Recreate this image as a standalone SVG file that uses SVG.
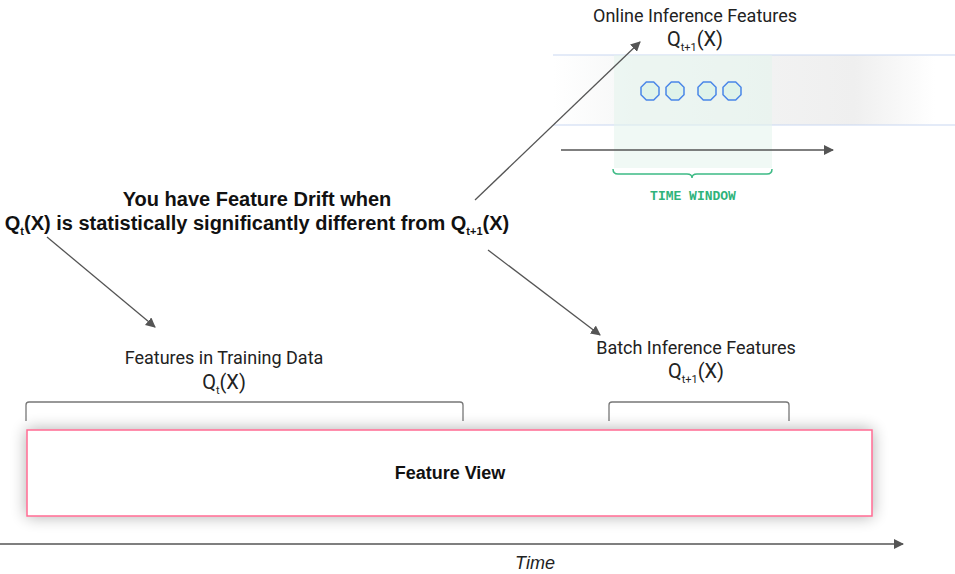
<svg xmlns="http://www.w3.org/2000/svg" width="955" height="574" viewBox="0 0 955 574">
<style>
.lbl{font-family:Roboto,"Liberation Sans",sans-serif;font-size:18px;fill:#222;text-anchor:middle}
.q{font-size:20px}
.sub{font-size:11px}
.bold{font-family:"Liberation Sans",Arial,sans-serif;font-weight:bold;font-size:20px;fill:#111;text-anchor:middle}
.conn{stroke:#555;stroke-width:1.3;fill:none}
.brk{stroke:#777;stroke-width:1.3;fill:none}
.oct{fill:#dff3ea;stroke:#4a86e8;stroke-width:1.5}
</style>
<defs>
<marker id="ah" markerWidth="10" markerHeight="10" refX="9" refY="5" orient="auto" markerUnits="userSpaceOnUse">
<path d="M0,0 L10,5 L0,10 Z" fill="#555"/>
</marker>
<linearGradient id="band" x1="0" x2="1" y1="0" y2="0">
<stop offset="0" stop-color="#ffffff"/>
<stop offset="0.2" stop-color="#f6f7f7"/>
<stop offset="0.75" stop-color="#efefef"/>
<stop offset="0.95" stop-color="#ffffff"/>
</linearGradient>
<filter id="sh" x="-10%" y="-30%" width="120%" height="160%">
<feGaussianBlur in="SourceAlpha" stdDeviation="8"/>
<feComponentTransfer><feFuncA type="linear" slope="0.32"/></feComponentTransfer>
<feMerge><feMergeNode/><feMergeNode in="SourceGraphic"/></feMerge>
</filter>
</defs>
<rect width="955" height="574" fill="#fff"/>

<g id="online-band">
<rect x="553" y="55" width="402" height="70" fill="url(#band)"/>
<line x1="553" y1="55" x2="955" y2="55" stroke="#c9d7f2" stroke-width="1.2"/>
<line x1="553" y1="125" x2="955" y2="125" stroke="#c9d7f2" stroke-width="1.2"/>
<rect x="614" y="55" width="158" height="113" fill="#e4f4ec" opacity="0.55"/>
<polygon class="oct" points="646.3,82 653.7,82 659,87.3 659,94.7 653.7,100 646.3,100 641,94.7 641,87.3"/>
<polygon class="oct" points="671.3,82 678.7,82 684,87.3 684,94.7 678.7,100 671.3,100 666,94.7 666,87.3"/>
<polygon class="oct" points="703.3,82 710.7,82 716,87.3 716,94.7 710.7,100 703.3,100 698,94.7 698,87.3"/>
<polygon class="oct" points="728.3,82 735.7,82 741,87.3 741,94.7 735.7,100 728.3,100 723,94.7 723,87.3"/>
<line x1="561" y1="150" x2="833" y2="150" class="conn" marker-end="url(#ah)"/>
<path d="M613,169 Q613,174 618,174 L687,174 Q692,174 692,178 Q692,174 697,174 L767,174 Q772,174 772,169" stroke="#3dba85" stroke-width="1.5" fill="none"/>
<text x="693" y="200" font-family="'Liberation Mono','DejaVu Sans Mono',monospace" font-weight="bold" font-size="13" fill="#2fb37a" text-anchor="middle">TIME WINDOW</text>
</g>

<g id="online-label">
<text class="lbl" x="695" y="22">Online Inference Features</text>
<text class="lbl q" x="695" y="46">Q<tspan class="sub" dy="5">t+1</tspan><tspan dy="-5">(X)</tspan></text>
</g>

<g id="drift-text">
<text class="bold" x="257" y="206">You have Feature Drift when</text>
<text class="bold" x="257" y="230">Q<tspan class="sub" dy="5">t</tspan><tspan dy="-5">(X) is statistically significantly different from Q</tspan><tspan class="sub" dy="5">t+1</tspan><tspan dy="-5">(X)</tspan></text>
</g>

<g id="training-label">
<text class="lbl" x="224" y="364">Features in Training Data</text>
<text class="lbl q" x="224" y="389">Q<tspan class="sub" dy="5">t</tspan><tspan dy="-5">(X)</tspan></text>
<path class="brk" d="M26,421 L26,405 Q26,402 29,402 L460,402 Q463,402 463,405 L463,421"/>
</g>

<g id="batch-label">
<text class="lbl" x="696" y="354">Batch Inference Features</text>
<text class="lbl q" x="696" y="378">Q<tspan class="sub" dy="5">t+1</tspan><tspan dy="-5">(X)</tspan></text>
<path class="brk" d="M609,421 L609,405 Q609,402 612,402 L786,402 Q789,402 789,405 L789,421"/>
</g>

<g id="feature-view">
<rect x="27" y="430" width="845" height="86" fill="#fff" stroke="#ff6b93" stroke-width="1.5" filter="url(#sh)"/>
<text x="450" y="479" font-family="'Liberation Sans',Arial,sans-serif" font-weight="bold" font-size="18" fill="#111" text-anchor="middle">Feature View</text>
</g>

<g id="time-axis">
<line x1="0" y1="544" x2="903" y2="544" class="conn" marker-end="url(#ah)"/>
<text x="535" y="569" font-family="'Liberation Sans',Arial,sans-serif" font-style="italic" font-size="18" fill="#222" text-anchor="middle">Time</text>
</g>

<g id="connectors">
<line x1="475" y1="200" x2="640" y2="42" class="conn" marker-end="url(#ah)"/>
<line x1="47" y1="237" x2="155" y2="327" class="conn" marker-end="url(#ah)"/>
<line x1="488" y1="250" x2="600" y2="335" class="conn" marker-end="url(#ah)"/>
</g>
</svg>
